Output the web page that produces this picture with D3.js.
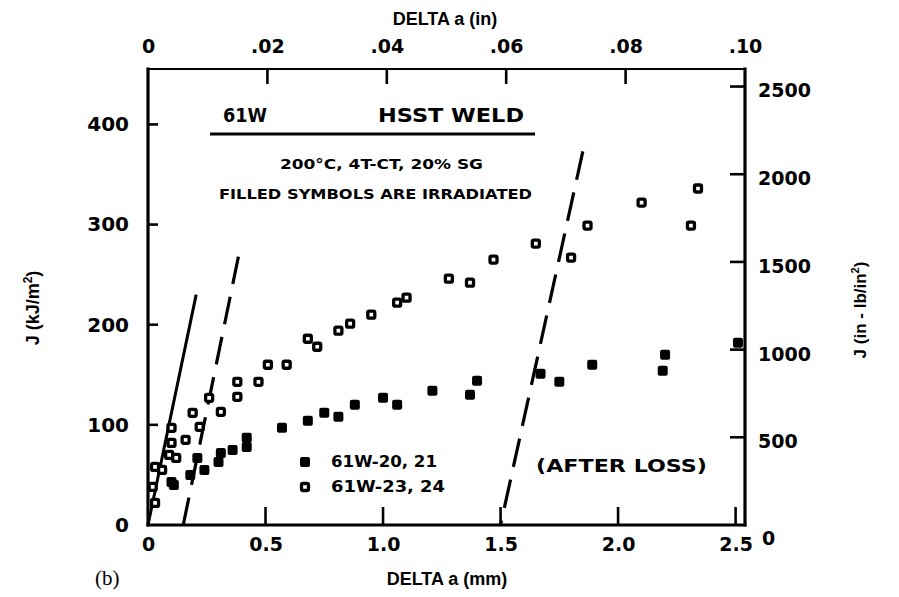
<!DOCTYPE html>
<html>
<head>
<meta charset="utf-8">
<script src="https://cdn.jsdelivr.net/npm/d3@7"></script>
<style>
  html, body { margin: 0; padding: 0; background: #fff; }
  svg { display: block; }
</style>
</head>
<body>
<script>
// J-R curve data for 61W HSST weld, crack extension in mm, J in kJ/m^2
const unirradiatedDa = [0.03, 0.02, 0.03, 0.06, 0.10, 0.10, 0.09, 0.12, 0.16, 0.19, 0.22, 0.26, 0.31, 0.38, 0.38, 0.47, 0.51, 0.59, 0.68, 0.72, 0.81, 0.86, 0.95, 1.06, 1.10, 1.28, 1.37, 1.47, 1.65, 1.80, 1.87, 2.10, 2.31, 2.34];
const unirradiatedJ  = [22, 38, 58, 55, 97, 82, 70, 67, 85, 112, 98, 127, 113, 143, 128, 143, 160, 160, 186, 178, 194, 201, 210, 222, 227, 246, 242, 265, 281, 267, 299, 322, 299, 336];

const irradiatedDa = [0.10, 0.11, 0.18, 0.21, 0.24, 0.31, 0.30, 0.36, 0.42, 0.42, 0.57, 0.68, 0.75, 0.81, 0.88, 1.00, 1.06, 1.21, 1.37, 1.40, 1.67, 1.75, 1.89, 2.19, 2.20, 2.51];
const irradiatedJ  = [43, 40, 50, 67, 55, 72, 63, 75, 87, 78, 97, 104, 112, 108, 120, 127, 120, 134, 130, 144, 151, 143, 160, 154, 170, 182];

// Blunting line and offset construction lines (end points: Da mm, J kJ/m^2)
const bluntingDa   = [0, 0.205];
const bluntingJ    = [0, 230];
const exclusionDa  = [0.15, 0.39];
const exclusionJ   = [0, 274];
const afterLossDa  = [1.85, 1.50];
const afterLossJ   = [373, 0];

// Tick values
const mmTicks   = [0, 0.5, 1.0, 1.5, 2.0, 2.5];
const inTicks   = [0, 0.02, 0.04, 0.06, 0.08, 0.10];
const kjTicks   = [0, 100, 200, 300, 400];
const inlbTicks = [0, 500, 1000, 1500, 2000, 2500];

const legendLabels = ["61W-20, 21", "61W-23, 24"];

const W = 899, H = 597;
const pLeft = 148, pRight = 745, pTop = 69, pBottom = 525;

// 1 in-lb/in^2 = 0.175127 kJ/m^2 ; 1 in = 25.4 mm
const xMm   = d3.scaleLinear().domain([0, 2.54]).range([pLeft, pRight]);
const xIn   = d3.scaleLinear().domain([0, 0.10]).range([pLeft, pRight]);
const yKJ   = d3.scaleLinear().domain([0, 2600 * 0.175127]).range([pBottom, pTop]);
const yInLb = d3.scaleLinear().domain([0, 2600]).range([pBottom, pTop]);

const svg = d3.select("body").append("svg").attr("width", W).attr("height", H);

const tickFont = "'DejaVu Sans', sans-serif";
const titleFont = "'Liberation Sans', Arial, sans-serif";

function styleLabels(g) {
  g.select(".domain").remove();
  g.selectAll(".tick line").remove();
  g.selectAll(".tick text")
    .attr("font-family", tickFont)
    .attr("font-weight", "bold")
    .attr("font-size", 19)
    .attr("fill", "#000");
}

// tick labels
const gB = svg.append("g").attr("transform", `translate(0,${pBottom})`)
  .call(d3.axisBottom(xMm).tickValues(mmTicks).tickSize(0).tickPadding(13)
    .tickFormat(d => d === 0 ? "0" : d3.format(".1f")(d)));
styleLabels(gB);

const gT = svg.append("g").attr("transform", `translate(0,${pTop})`)
  .call(d3.axisTop(xIn).tickValues(inTicks).tickSize(0).tickPadding(16)
    .tickFormat(d => d === 0 ? "0" : d3.format(".2f")(d).replace(/^0/, "")));
styleLabels(gT);

const gL = svg.append("g").attr("transform", `translate(${pLeft},0)`)
  .call(d3.axisLeft(yKJ).tickValues(kjTicks).tickSize(0).tickPadding(19));
styleLabels(gL);
gL.selectAll(".tick text").attr("font-size", 20);

const gR = svg.append("g").attr("transform", `translate(${pRight},0)`)
  .call(d3.axisRight(yInLb).tickValues(inlbTicks).tickSize(0).tickPadding(13).tickFormat(d3.format("d")));
styleLabels(gR);
gR.selectAll(".tick text").attr("dy", "0.55em");
gR.selectAll(".tick").filter(d => d === 0).select("text").attr("x", 17).attr("dy", "1.0em");

// inward tick marks
const ticks = svg.append("g").attr("stroke", "#000").attr("stroke-width", 2.6);
ticks.selectAll(".tb").data(mmTicks.filter(d => d > 0)).join("line")
  .attr("x1", d => xMm(d)).attr("x2", d => xMm(d))
  .attr("y1", pBottom).attr("y2", pBottom - 18);
ticks.selectAll(".tt").data(inTicks.filter(d => d > 0 && d < 0.1)).join("line")
  .attr("x1", d => xIn(d)).attr("x2", d => xIn(d))
  .attr("y1", pTop).attr("y2", pTop + 15);
ticks.selectAll(".tl").data(kjTicks.filter(d => d > 0)).join("line")
  .attr("x1", pLeft).attr("x2", pLeft + 10)
  .attr("y1", d => yKJ(d)).attr("y2", d => yKJ(d));
ticks.selectAll(".tr").data(inlbTicks.filter(d => d > 0)).join("line")
  .attr("x1", pRight).attr("x2", pRight - 15)
  .attr("y1", d => yInLb(d)).attr("y2", d => yInLb(d));

// plot frame
const frame = svg.append("g").attr("stroke", "#000").attr("stroke-linecap", "square");
frame.append("line").attr("x1", pLeft).attr("x2", pLeft).attr("y1", pTop).attr("y2", pBottom).attr("stroke-width", 3.2);
frame.append("line").attr("x1", pRight).attr("x2", pRight).attr("y1", pTop).attr("y2", pBottom).attr("stroke-width", 3.2);
frame.append("line").attr("x1", pLeft).attr("x2", pRight).attr("y1", pBottom).attr("y2", pBottom).attr("stroke-width", 2.8);
frame.append("line").attr("x1", pLeft).attr("x2", pRight).attr("y1", pTop).attr("y2", pTop).attr("stroke-width", 2.2);

// axis titles
svg.append("text").attr("x", 445).attr("y", 25).attr("text-anchor", "middle")
  .attr("font-family", titleFont).attr("font-weight", "bold").attr("font-size", 18)
  .text("DELTA a (in)");
svg.append("text").attr("x", 447).attr("y", 585).attr("text-anchor", "middle")
  .attr("font-family", titleFont).attr("font-weight", "bold").attr("font-size", 18)
  .text("DELTA a (mm)");

const lt = svg.append("text").attr("transform", "translate(39,308) rotate(-90)").attr("text-anchor", "middle")
  .attr("font-family", titleFont).attr("font-weight", "bold").attr("font-size", 18);
lt.append("tspan").text("J (kJ/m");
lt.append("tspan").attr("font-size", 12).attr("dy", -7).text("2");
lt.append("tspan").attr("dy", 7).text(")");

const rt = svg.append("text").attr("transform", "translate(866,310) rotate(-90)").attr("text-anchor", "middle")
  .attr("font-family", titleFont).attr("font-weight", "bold").attr("font-size", 17);
rt.append("tspan").text("J (in - lb/in");
rt.append("tspan").attr("font-size", 11).attr("dy", -7).text("2");
rt.append("tspan").attr("dy", 7).text(")");

svg.append("text").attr("x", 95).attr("y", 585)
  .attr("font-family", "'Liberation Serif', 'Times New Roman', serif").attr("font-size", 21)
  .text("(b)");

// construction lines
const line = d3.line().x(d => xMm(d[0])).y(d => yKJ(d[1]));
svg.append("path").datum(bluntingDa.map((d, i) => [d, bluntingJ[i]]))
  .attr("d", line).attr("fill", "none").attr("stroke", "#000").attr("stroke-width", 3);
svg.append("path").datum(exclusionDa.map((d, i) => [d, exclusionJ[i]]))
  .attr("d", line).attr("fill", "none").attr("stroke", "#000").attr("stroke-width", 3.2)
  .attr("stroke-dasharray", "28,13");
svg.append("path").datum(afterLossDa.map((d, i) => [d, afterLossJ[i]]))
  .attr("d", line).attr("fill", "none").attr("stroke", "#000").attr("stroke-width", 3.2)
  .attr("stroke-dasharray", "29,13");

// markers
function openSquare(sel) {
  sel.attr("width", 7).attr("height", 7).attr("rx", 1.5)
    .attr("fill", "#fff").attr("stroke", "#000").attr("stroke-width", 3.3);
}
function filledSquare(sel) {
  sel.attr("width", 10).attr("height", 10).attr("rx", 2).attr("fill", "#000");
}

svg.append("g").selectAll("rect")
  .data(unirradiatedDa.map((d, i) => [d, unirradiatedJ[i]]))
  .join("rect")
  .attr("x", d => xMm(d[0]) - 3.5).attr("y", d => yKJ(d[1]) - 3.5)
  .call(openSquare);

svg.append("g").selectAll("rect")
  .data(irradiatedDa.map((d, i) => [d, irradiatedJ[i]]))
  .join("rect")
  .attr("x", d => xMm(d[0]) - 5).attr("y", d => yKJ(d[1]) - 5)
  .call(filledSquare);

// header annotations
const bold = (sel, size) => sel.attr("font-family", tickFont).attr("font-weight", "bold").attr("font-size", size).attr("fill", "#000");
bold(svg.append("text").attr("x", 223).attr("y", 122).attr("textLength", 44).attr("lengthAdjust", "spacingAndGlyphs"), 19).text("61W");
bold(svg.append("text").attr("x", 378).attr("y", 122).attr("textLength", 146).attr("lengthAdjust", "spacingAndGlyphs"), 19).text("HSST WELD");
svg.append("line").attr("x1", 210).attr("x2", 535).attr("y1", 134).attr("y2", 134)
  .attr("stroke", "#000").attr("stroke-width", 3);
bold(svg.append("text").attr("x", 280).attr("y", 169).attr("textLength", 203).attr("lengthAdjust", "spacingAndGlyphs"), 14).text("200°C, 4T-CT, 20% SG");
bold(svg.append("text").attr("x", 219).attr("y", 199).attr("textLength", 313).attr("lengthAdjust", "spacingAndGlyphs"), 14).text("FILLED SYMBOLS ARE IRRADIATED");

// legend
const legY = [462, 487];
svg.append("rect").attr("x", 305 - 5).attr("y", legY[0] - 5).call(filledSquare);
svg.append("rect").attr("x", 305 - 3.5).attr("y", legY[1] - 3.5).call(openSquare);
legendLabels.forEach((t, i) => {
  bold(svg.append("text").attr("x", 331).attr("y", legY[i] + 5)
    .attr("textLength", i === 0 ? 106 : 114).attr("lengthAdjust", "spacingAndGlyphs"), 15).text(t);
});

bold(svg.append("text").attr("x", 536).attr("y", 472).attr("textLength", 171).attr("lengthAdjust", "spacingAndGlyphs"), 18).text("(AFTER LOSS)");
</script>
</body>
</html>
